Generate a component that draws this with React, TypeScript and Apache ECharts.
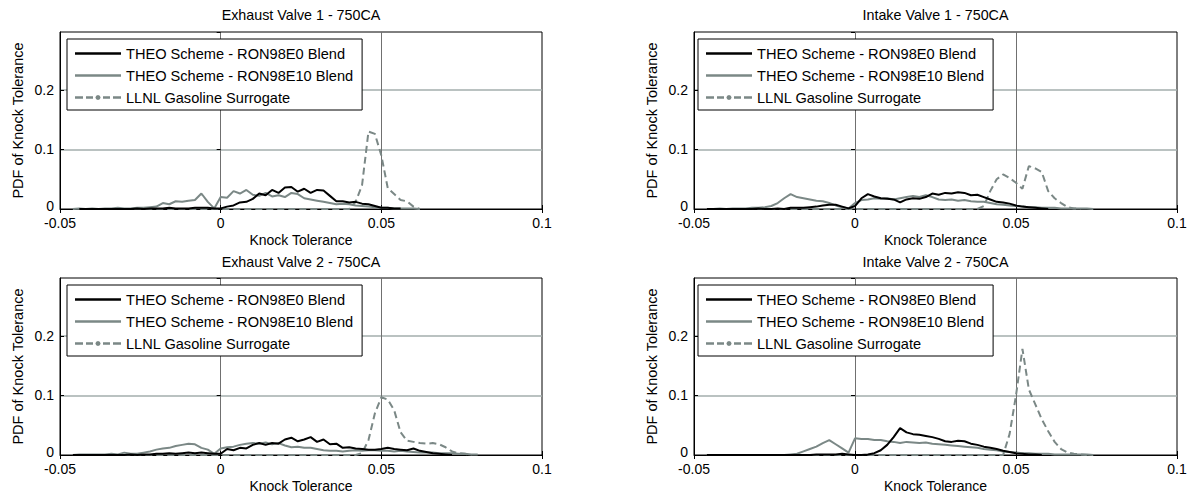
import React, { useEffect, useRef } from "react";
import * as echarts from "echarts";

// ---------------- data ----------------
// knock-tolerance bin centres
const KT = [
  -0.046, -0.044, -0.042, -0.04, -0.038, -0.036, -0.034, -0.032,
  -0.03, -0.028, -0.026, -0.024, -0.022, -0.02, -0.018, -0.016,
  -0.014, -0.012, -0.01, -0.008, -0.006, -0.004, -0.002, 0.0,
  0.002, 0.004, 0.006, 0.008, 0.01, 0.012, 0.014, 0.016,
  0.018, 0.02, 0.022, 0.024, 0.026, 0.028, 0.03, 0.032,
  0.034, 0.036, 0.038, 0.04, 0.042, 0.044, 0.046, 0.048,
  0.05, 0.052, 0.054, 0.056, 0.058, 0.06, 0.062, 0.064,
  0.066, 0.068, 0.07, 0.072, 0.074, 0.076, 0.078, 0.08,
];

const SERIES_NAMES = [
  "THEO Scheme - RON98E0 Blend",
  "THEO Scheme - RON98E10 Blend",
  "LLNL Gasoline Surrogate",
];

const PANEL_TITLES = [
  "Exhaust Valve 1 - 750CA",
  "Intake Valve 1 - 750CA",
  "Exhaust Valve 2 - 750CA",
  "Intake Valve 2 - 750CA",
];

const X_MIN = -0.05;
const X_MAX = 0.1;
const X_STEP = 0.05;
const Y_MIN = 0;
const Y_MAX = 0.297;
const Y_STEP = 0.1;

const X_NAME = "Knock Tolerance";
const Y_NAME = "PDF of Knock Tolerance";

// Exhaust Valve 1
const ev1E0 = [
  null, 0, 0, 0, 0, 0, 0, 0,
  0, 0, 0.001, 0, 0.001, 0.001, 0.001, 0.002,
  0.001, 0.001, 0.001, 0.002, 0.002, 0.002, 0.001, 0.001,
  0.004, 0.006, 0.011, 0.012, 0.017, 0.026, 0.023, 0.032,
  0.027, 0.036, 0.037, 0.029, 0.034, 0.027, 0.032, 0.031,
  0.022, 0.013, 0.013, 0.011, 0.012, 0.009, 0.008, 0.005,
  0.002, 0.002, 0.001, 0.001, null, null, null, null,
  null, null, null, null, null, null, null, null,
];
const ev1E10 = [
  0, 0.001, 0, 0.001, 0, 0.001, 0.001, 0.002,
  0.001, 0.001, 0.002, 0.002, 0.003, 0.004, 0.01, 0.008,
  0.013, 0.012, 0.014, 0.015, 0.026, 0.012, 0.001, 0.02,
  0.019, 0.03, 0.026, 0.032, 0.024, 0.022, 0.027, 0.021,
  0.023, 0.02, 0.027, 0.025, 0.018, 0.016, 0.014, 0.012,
  0.01, 0.008, 0.009, 0.008, 0.006, 0.005, 0.004, 0.003,
  0.002, 0.002, 0.001, 0.001, 0.001, 0.001, 0, null,
  null, null, null, null, null, null, null, null,
];
const ev1LL = [
  null, 0, 0, 0, 0, 0, 0, 0,
  0, 0, 0, 0, 0, 0, 0, 0,
  0, 0, 0, 0, 0, 0, 0, 0,
  0, 0, 0, 0, 0, 0, 0, 0,
  0, 0, 0, 0, 0, 0, 0, 0,
  0, 0, 0, 0, 0.012, 0.04, 0.13, 0.126,
  0.09, 0.035, 0.025, 0.015, 0.013, 0.004, 0, null,
  null, null, null, null, null, null, null, null,
];

// Intake Valve 1
const iv1E0 = [
  0, 0, 0, 0, 0, 0, 0, 0,
  0.001, 0, 0, 0.001, 0, 0.002, 0.002, 0.002,
  0.003, 0.004, 0.006, 0.007, 0.007, 0.004, 0.001, 0.005,
  0.018, 0.025, 0.021, 0.018, 0.017, 0.016, 0.011, 0.016,
  0.018, 0.017, 0.02, 0.026, 0.024, 0.027, 0.026, 0.028,
  0.027, 0.023, 0.024, 0.02, 0.016, 0.012, 0.011, 0.009,
  0.006, 0.004, 0.003, 0.002, 0.001, 0, null, null,
  null, null, null, null, null, null, null, null,
];
const iv1E10 = [
  0, 0, 0.001, 0, 0.001, 0.001, 0.001, 0.002,
  0.002, 0.003, 0.005, 0.01, 0.018, 0.025, 0.02, 0.018,
  0.016, 0.014, 0.013, 0.01, 0.006, 0.003, 0.001, 0.01,
  0.015, 0.016, 0.018, 0.017, 0.018, 0.016, 0.018, 0.02,
  0.022, 0.02, 0.023, 0.02, 0.016, 0.015, 0.016, 0.014,
  0.015, 0.013, 0.012, 0.012, 0.01, 0.008, 0.007, 0.006,
  0.005, 0.004, 0.003, 0.003, 0.002, 0.002, 0.002, 0.001,
  0.001, 0.001, 0.001, 0.001, 0, null, null, null,
];
const iv1LL = [
  null, 0, 0, 0, 0, 0, 0, 0,
  0, 0, 0, 0, 0, 0, 0, 0,
  0, 0, 0, 0, 0, 0, 0, 0,
  0, 0, 0, 0, 0, 0, 0, 0,
  0, 0, 0, 0, 0, 0, 0, 0,
  0, 0, 0, 0.005, 0.03, 0.05, 0.058, 0.052,
  0.044, 0.034, 0.072, 0.068, 0.062, 0.03, 0.018, 0.01,
  0.003, 0.001, 0, null, null, null, null, null,
];

// Exhaust Valve 2
const ev2E0 = [
  0, 0, 0, 0, 0, 0, 0, 0,
  0, 0.001, 0, 0.001, 0.001, 0.002, 0.002, 0.003,
  0.002, 0.003, 0.004, 0.003, 0.004, 0.003, 0.002, 0.002,
  0.01, 0.008, 0.012, 0.011, 0.017, 0.02, 0.017, 0.02,
  0.019, 0.026, 0.029, 0.023, 0.026, 0.03, 0.022, 0.026,
  0.018, 0.019, 0.012, 0.013, 0.011, 0.01, 0.009, 0.009,
  0.01, 0.012, 0.01, 0.009, 0.008, 0.011, 0.007, 0.005,
  0.003, 0.002, 0.001, 0, null, null, null, null,
];
const ev2E10 = [
  0, 0.001, 0.001, 0.001, 0.001, 0.001, 0.002, 0.001,
  0.004, 0.002, 0.002, 0.004, 0.006, 0.009, 0.011, 0.012,
  0.015, 0.017, 0.019, 0.018, 0.012, 0.009, 0.002, 0.011,
  0.013, 0.014, 0.017, 0.019, 0.02, 0.019, 0.021, 0.018,
  0.02, 0.016, 0.013, 0.014, 0.012, 0.012, 0.01, 0.008,
  0.007, 0.007, 0.006, 0.007, 0.008, 0.007, 0.008, 0.008,
  0.007, 0.007, 0.006, 0.007, 0.006, 0.005, 0.004, 0.004,
  0.004, 0.003, 0.003, 0.003, 0.002, 0.002, 0.001, 0.001,
];
const ev2LL = [
  null, 0, 0, 0, 0, 0, 0, 0,
  0, 0, 0, 0, 0, 0, 0, 0,
  0, 0, 0, 0, 0, 0, 0, 0,
  0, 0, 0, 0, 0, 0, 0, 0,
  0, 0, 0, 0, 0, 0, 0, 0,
  0, 0, 0, 0, 0, 0.003, 0.025, 0.07,
  0.097, 0.093, 0.075, 0.038, 0.024, 0.022, 0.02, 0.019,
  0.02, 0.018, 0.013, 0.006, 0.003, 0.002, 0, null,
];

// Intake Valve 2
const iv2E0 = [
  0, 0, 0, 0, 0, 0, 0, 0,
  0, 0, 0, 0, 0, 0, 0, 0,
  0, 0.001, 0.001, 0.001, 0.001, 0.002, 0.001, 0,
  0, 0.001, 0.003, 0.008, 0.017, 0.03, 0.045, 0.038,
  0.035, 0.034, 0.032, 0.03, 0.027, 0.023, 0.022, 0.024,
  0.023, 0.019, 0.017, 0.014, 0.012, 0.01, 0.007, 0.005,
  0.003, 0.002, 0.001, 0.001, 0, null, null, null,
  null, null, null, null, null, null, null, null,
];
const iv2E10 = [
  0, 0, 0, 0, 0, 0, 0, 0,
  0, 0, 0, 0, 0, 0.001, 0.002, 0.006,
  0.01, 0.014, 0.02, 0.025, 0.018, 0.011, 0.004, 0.028,
  0.027, 0.027, 0.025, 0.025, 0.023, 0.022, 0.02, 0.022,
  0.021, 0.02, 0.021, 0.019, 0.018, 0.017, 0.016, 0.015,
  0.014, 0.013, 0.012, 0.01, 0.009, 0.008, 0.006, 0.005,
  0.004, 0.003, 0.003, 0.002, 0.002, 0.002, 0.001, 0.001,
  0.001, 0.001, 0.001, 0.001, 0, null, null, null,
];
const iv2LL = [
  null, 0, 0, 0, 0, 0, 0, 0,
  0, 0, 0, 0, 0, 0, 0, 0,
  0, 0, 0, 0, 0, 0, 0, 0,
  0, 0, 0, 0, 0, 0, 0, 0,
  0, 0, 0, 0, 0, 0, 0, 0,
  0, 0, 0, 0, 0, 0, 0, 0.035,
  0.1, 0.178, 0.11, 0.085, 0.06, 0.04, 0.022, 0.01,
  0.004, 0.002, 0.001, 0, null, null, null, null,
];

const PANEL_DATA = [
  [ev1E0, ev1E10, ev1LL],
  [iv1E0, iv1E10, iv1LL],
  [ev2E0, ev2E10, ev2LL],
  [iv2E0, iv2E10, iv2LL],
];

// ---------------- layout / style ----------------
const FONT = "'Liberation Sans', Arial, Helvetica, sans-serif";
const GRIDS = [
  { left: 60, top: 32, width: 482, height: 177 },
  { left: 694, top: 32, width: 483, height: 177 },
  { left: 60, top: 278, width: 482, height: 177 },
  { left: 694, top: 278, width: 483, height: 177 },
];
const TITLE_Y = [15, 15, 262, 262];
const LEGEND_POS = [
  { left: 67, top: 39 },
  { left: 698, top: 39 },
  { left: 67, top: 285 },
  { left: 698, top: 285 },
];
const GRAY = "#7b8886";
const LINE_STYLES = [
  { color: "#000000", type: "solid" as any, width: 2 },
  { color: GRAY, type: "solid" as any, width: 2 },
  { color: GRAY, type: [7, 4] as any, width: 2 },
];
const ICON_SOLID = "path://M0,0H46V2.6H0Z";
const ICON_DASH =
  "path://M0,1.5H8V4H0ZM11,1.5H18V4H11ZM28,1.5H35V4H28ZM38,1.5H46V4H38Z" +
  "M23,0.2L24.8,0.95L25.6,2.75L24.8,4.55L23,5.3L21.2,4.55L20.4,2.75L21.2,0.95Z";

function pairs(ys: (number | null)[]) {
  const out: [number, number][] = [];
  KT.forEach((x, i) => {
    const y = ys[i];
    if (y !== null && y !== undefined) out.push([x, y]);
  });
  return out;
}

function buildOption() {
  const txt = { color: "#000", fontFamily: FONT, fontSize: 14 };
  const xAxis: any[] = [];
  const yAxis: any[] = [];
  GRIDS.forEach((_, i) => {
    xAxis.push({
      type: "value",
      gridIndex: i,
      min: X_MIN,
      max: X_MAX,
      interval: X_STEP,
      position: "bottom",
      axisLine: { show: true, onZero: false, lineStyle: { color: "#000", width: 1 } },
      axisTick: { show: true, inside: true, length: 4, lineStyle: { color: "#000" } },
      axisLabel: { ...txt, margin: 8, lineHeight: 12 },
      splitLine: {
        show: true,
        showMinLine: false,
        showMaxLine: false,
        lineStyle: { color: "#707070", width: 1 },
      },
      name: X_NAME,
      nameLocation: "middle",
      nameGap: 24,
      nameTextStyle: { ...txt, lineHeight: 14 },
    });
    yAxis.push({
      type: "value",
      gridIndex: i,
      min: Y_MIN,
      max: Y_MAX,
      interval: Y_STEP,
      position: "left",
      axisLine: { show: true, onZero: false, lineStyle: { color: "#000", width: 1 } },
      axisTick: { show: true, inside: true, length: 4, lineStyle: { color: "#000" } },
      axisLabel: {
        ...txt,
        margin: 6,
        lineHeight: 11,
        showMaxLabel: false,
        formatter: (v: number) => (v === 0 ? "{z|0}" : String(v)),
        rich: {
          z: { ...txt, lineHeight: 11, padding: [0, 0, 7, 0] },
        },
      },
      splitLine: {
        show: true,
        showMinLine: false,
        showMaxLine: false,
        lineStyle: { color: "#a3aeac", width: 1.5 },
      },
      name: Y_NAME,
      nameLocation: "middle",
      nameGap: 35,
      nameTextStyle: { ...txt, fontSize: 14.5 },
    });
  });
  // mirror axes for the tick marks on the top and right edges of the box
  GRIDS.forEach((_, i) => {
    xAxis.push({
      type: "value",
      gridIndex: i,
      min: X_MIN,
      max: X_MAX,
      interval: X_STEP,
      position: "top",
      axisLine: { show: false },
      axisTick: { show: true, inside: true, length: 4, lineStyle: { color: "#000" } },
      axisLabel: { show: false },
      splitLine: { show: false },
    });
    yAxis.push({
      type: "value",
      gridIndex: i,
      min: Y_MIN,
      max: Y_MAX,
      interval: Y_STEP,
      position: "right",
      axisLine: { show: false },
      axisTick: { show: true, inside: true, length: 4, lineStyle: { color: "#000" } },
      axisLabel: { show: false },
      splitLine: { show: false },
    });
  });

  const series: any[] = [];
  PANEL_DATA.forEach((set, i) => {
    set.forEach((ys, k) => {
      series.push({
        type: "line",
        name: SERIES_NAMES[k],
        xAxisIndex: i,
        yAxisIndex: i,
        data: pairs(ys),
        symbol: "none",
        showSymbol: false,
        itemStyle: { color: LINE_STYLES[k].color },
        lineStyle: { ...LINE_STYLES[k] },
        z: 5 - k,
      });
    });
  });

  const legend = GRIDS.map((_, i) => ({
    left: LEGEND_POS[i].left,
    top: LEGEND_POS[i].top,
    orient: "vertical",
    itemWidth: 46,
    itemHeight: 14,
    itemGap: 7,
    padding: [7, 9, 5, 8],
    borderColor: "#000",
    borderWidth: 1,
    backgroundColor: "#fff",
    selectedMode: false,
    itemStyle: { borderWidth: 0 },
    textStyle: { ...txt, fontSize: 14.6, lineHeight: 14 },
    data: SERIES_NAMES.map((n, k) => ({ name: n, icon: k === 2 ? ICON_DASH : ICON_SOLID })),
  }));

  const graphic = PANEL_TITLES.map((t, i) => ({
    type: "text",
    x: GRIDS[i].left + GRIDS[i].width / 2,
    y: TITLE_Y[i],
    style: {
      text: t,
      fill: "#000",
      fontFamily: FONT,
      fontSize: 14.3,
      align: "center",
      verticalAlign: "middle",
    },
  }));

  return {
    animation: false,
    backgroundColor: "#fff",
    grid: GRIDS.map((g) => ({
      ...g,
      show: true,
      borderColor: "#000",
      borderWidth: 1,
      backgroundColor: "transparent",
    })),
    xAxis,
    yAxis,
    legend,
    graphic,
    series,
  };
}

export default function App() {
  const ref = useRef<HTMLDivElement>(null);
  useEffect(() => {
    if (!ref.current) return;
    const chart = echarts.init(ref.current, undefined, { renderer: "svg" });
    chart.setOption(buildOption() as any);
    return () => chart.dispose();
  }, []);
  return (
    <div
      ref={ref}
      style={{ position: "fixed", left: 0, top: 0, width: 1192, height: 498, background: "#fff" }}
    />
  );
}
